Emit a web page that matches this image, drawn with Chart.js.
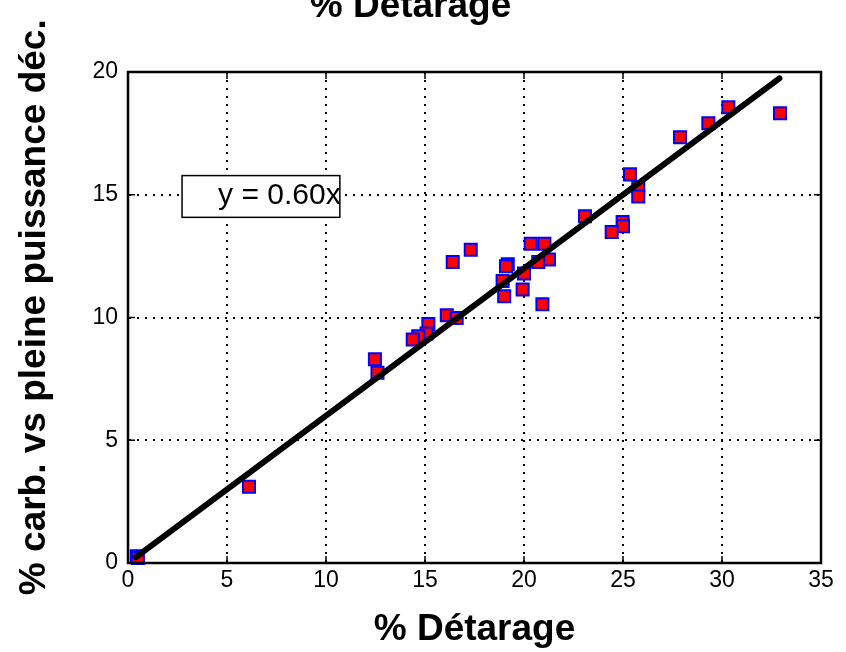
<!doctype html>
<html>

<head>
  <title>% Détarage</title>
  <script src="https://cdn.jsdelivr.net/npm/chart.js@4.4.1/dist/chart.umd.min.js"></script>
  <style>
    html, body {
      margin: 0;
      padding: 0;
      background: #fff;
    }
  </style>
</head>

<body>
  <canvas id="myChart" width="846" height="652"></canvas>

  <script>
    // measured points (% détarage vs % carb.)
    var detarage = [30.32, 32.93, 29.31, 27.88, 25.35, 25.77, 25.77, 23.08, 24.98, 25.0,
      24.43, 20.34, 21.03, 17.31, 16.4, 21.26, 20.72, 19.18, 19.09, 20.0,
      18.92, 19.0, 19.93, 20.93, 16.1, 16.6, 15.17, 15.08, 14.66, 14.38,
      12.47, 12.6, 6.11, 0.44, 0.5];
    var carb = [18.56, 18.32, 17.91, 17.34, 15.83, 15.31, 14.93, 14.12, 13.89, 13.72,
      13.48, 13.0, 13.0, 12.76, 12.26, 12.36, 12.26, 12.17, 12.09, 11.79,
      11.49, 10.87, 11.14, 10.54, 10.09, 9.98, 9.73, 9.35, 9.24, 9.1,
      8.3, 7.75, 3.11, 0.27, 0.2];

    // regression line y = 0.60x, end points
    var fitX = [0.4, 32.9];
    var fitY = [0.24, 19.74];

    var xTicks = [0, 5, 10, 15, 20, 25, 30, 35];
    var yTicks = [0, 5, 10, 15, 20];

    var equationText = 'y = 0.60x';
    var fontFamily = "'Liberation Sans', Arial, Helvetica, sans-serif";

    function toPoints(xs, ys) {
      return xs.map(function(x, i) {
        return { x: x, y: ys[i] };
      });
    }

    // frame round the plot, inner ticks, equation box
    var matlabBox = {
      id: 'matlabBox',
      afterDatasetsDraw: function(chart) {
        var ctx = chart.ctx;
        var a = chart.chartArea;
        var xs = chart.scales.x;
        var ys = chart.scales.y;
        var tick = 7;
        ctx.save();

        // equation box
        var bx0 = xs.getPixelForValue(2.73);
        var bx1 = xs.getPixelForValue(10.7);
        var by0 = ys.getPixelForValue(15.78);
        var by1 = ys.getPixelForValue(14.08);
        ctx.fillStyle = '#fff';
        ctx.fillRect(bx0, by0, bx1 - bx0, by1 - by0);
        ctx.strokeStyle = '#000';
        ctx.lineWidth = 1.5;
        ctx.strokeRect(bx0, by0, bx1 - bx0, by1 - by0);
        ctx.fillStyle = '#000';
        ctx.font = '30px ' + fontFamily;
        ctx.textBaseline = 'middle';
        ctx.textAlign = 'left';
        ctx.fillText(equationText, xs.getPixelForValue(4.55), ys.getPixelForValue(14.95));

        // inward ticks
        ctx.lineWidth = 1.5;
        ctx.beginPath();
        xTicks.forEach(function(v) {
          var px = xs.getPixelForValue(v);
          ctx.moveTo(px, a.bottom);
          ctx.lineTo(px, a.bottom - tick);
          ctx.moveTo(px, a.top);
          ctx.lineTo(px, a.top + tick);
        });
        yTicks.forEach(function(v) {
          var py = ys.getPixelForValue(v);
          ctx.moveTo(a.left, py);
          ctx.lineTo(a.left + tick, py);
          ctx.moveTo(a.right, py);
          ctx.lineTo(a.right - tick, py);
        });
        ctx.stroke();

        // axes box
        ctx.lineWidth = 2.5;
        ctx.strokeRect(a.left, a.top, a.right - a.left, a.bottom - a.top);
        ctx.restore();
      }
    };

    var gridOpts = {
      color: '#000',
      lineWidth: 2,
      drawTicks: false
    };
    var borderOpts = {
      display: true,
      color: '#000',
      width: 2,
      dash: [2, 6]
    };

    var config = {
      type: 'scatter',
      data: {
        datasets: [{
          type: 'line',
          label: 'fit',
          data: toPoints(fitX, fitY),
          borderColor: '#000',
          borderWidth: 6,
          borderCapStyle: 'round',
          pointRadius: 0,
          fill: false
        }, {
          label: 'mesures',
          data: toPoints(detarage, carb),
          pointStyle: 'rect',
          pointRadius: 8.5,
          pointBorderWidth: 2,
          backgroundColor: '#ff0000',
          borderColor: '#0000ff',
          clip: false
        }]
      },
      options: {
        responsive: false,
        animation: false,
        layout: {
          padding: { top: -15, right: 25, left: 0, bottom: 0 }
        },
        plugins: {
          legend: { display: false },
          tooltip: { enabled: false },
          title: {
            display: true,
            text: '% Détarage',
            color: '#000',
            font: { family: fontFamily, size: 37, weight: 'bold' },
            padding: { top: 0, bottom: 42.6 }
          }
        },
        scales: {
          x: {
            type: 'linear',
            min: 0,
            max: 35,
            afterFit: function(scale) { scale.height = 89; },
            afterBuildTicks: function(scale) {
              scale.ticks = xTicks.map(function(v) { return { value: v }; });
            },
            ticks: {
              color: '#000',
              padding: 4,
              maxRotation: 0,
              font: { family: fontFamily, size: 23 }
            },
            grid: gridOpts,
            border: borderOpts,
            title: {
              display: true,
              text: '% Détarage',
              color: '#000',
              font: { family: fontFamily, size: 37, weight: 'bold' },
              padding: { top: 0, bottom: 0 }
            }
          },
          y: {
            type: 'linear',
            min: 0,
            max: 20,
            afterFit: function(scale) { scale.width = 128; },
            afterBuildTicks: function(scale) {
              scale.ticks = yTicks.map(function(v) { return { value: v }; });
            },
            ticks: {
              color: '#000',
              padding: 10,
              font: { family: fontFamily, size: 23 }
            },
            grid: gridOpts,
            border: borderOpts,
            title: {
              display: true,
              text: '  % carb. vs pleine puissance déc.',
              color: '#000',
              font: { family: fontFamily, size: 37, weight: 'bold' },
              padding: { top: 13, bottom: 0 }
            }
          }
        }
      },
      plugins: [matlabBox]
    };

    var ctx = document.getElementById('myChart').getContext('2d');
    window.myChart = new Chart(ctx, config);
  </script>
</body>

</html>
